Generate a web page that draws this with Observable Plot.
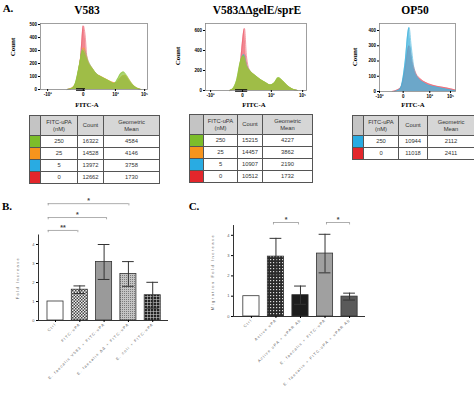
<!DOCTYPE html>
<html><head><meta charset="utf-8">
<script src="https://cdn.jsdelivr.net/npm/d3@7"></script>
<script src="https://cdn.jsdelivr.net/npm/@observablehq/plot@0.6"></script>
<style>
body{margin:0;background:#fff;}
#fig{position:relative;width:474px;height:399px;overflow:hidden;font-family:"Liberation Serif",serif;background:#fff;}
.abs{position:absolute;}
.lab{position:absolute;white-space:nowrap;line-height:1;}
table.ft{position:absolute;border-collapse:collapse;table-layout:fixed;font-family:"Liberation Sans",sans-serif;font-size:5.8px;color:#333;}
table.ft td{border:1px solid #555;text-align:center;padding:0;line-height:1.15;}
table.ft tr.h td{background:#d6d6d6;height:19px;}
table.ft tr.r td{height:11px;background:#fff;}
</style></head><body>
<svg width="0" height="0" style="position:absolute">
<defs>
<pattern id="pChk" width="3" height="3" patternUnits="userSpaceOnUse"><rect width="3" height="3" fill="#eee"/><rect width="1.5" height="1.5" fill="#444"/><rect x="1.5" y="1.5" width="1.5" height="1.5" fill="#444"/></pattern>
<pattern id="pDot" width="2" height="2" patternUnits="userSpaceOnUse"><rect width="2" height="2" fill="#c4c4c4"/><rect width="1" height="1" fill="#7a7a7a"/></pattern>
<pattern id="pGrid" width="3" height="3" patternUnits="userSpaceOnUse"><rect width="3" height="3" fill="#222"/><path d="M0 0.5H3M0.5 0V3" stroke="#c8c8c8" stroke-width="0.6"/></pattern>
<pattern id="pDotGrid" width="3" height="3" patternUnits="userSpaceOnUse"><rect width="3" height="3" fill="#2a2a2a"/><rect x="1" y="1" width="1.2" height="1.2" fill="#ddd"/></pattern>
</defs></svg>
<div id="fig"></div>
<script>
// ---------- DATA ----------
const decadeLabels = ["-10³", "0", "10³", "10⁵"];
// V583 histograms: [display position (biexponential units), count]
const v583_0 = [[-0.45,0],[-0.3,10],[-0.2,40],[-0.12,120],[-0.06,300],[0,490],[0.05,420],[0.1,250],[0.17,170],[0.25,130],[0.35,100],[0.5,80],[0.65,60],[0.8,45],[0.95,50],[1.05,80],[1.13,95],[1.22,80],[1.32,45],[1.45,15],[1.6,0]];
const v583_5 = [[-0.45,0],[-0.3,12],[-0.2,55],[-0.1,190],[-0.02,310],[0.04,300],[0.12,230],[0.22,175],[0.35,125],[0.5,95],[0.65,72],[0.8,52],[0.92,48],[1.02,80],[1.12,100],[1.2,95],[1.3,55],[1.45,15],[1.6,0]];
const v583_25 = [[-0.45,0],[-0.3,15],[-0.2,60],[-0.1,200],[-0.03,300],[0.02,320],[0.08,270],[0.15,210],[0.25,165],[0.35,125],[0.5,100],[0.65,78],[0.8,58],[0.92,50],[1.0,75],[1.1,105],[1.18,110],[1.26,85],[1.36,45],[1.5,12],[1.62,0]];
const v583_250 = [[-0.45,0],[-0.3,10],[-0.22,50],[-0.1,200],[-0.02,300],[0.06,260],[0.15,200],[0.26,160],[0.37,120],[0.48,100],[0.62,80],[0.76,60],[0.87,45],[0.96,80],[1.04,120],[1.13,135],[1.21,110],[1.32,60],[1.43,25],[1.55,5],[1.63,0]];
// V583ΔΔgelE/sprE histograms
const dd_0 = [[-0.4,0],[-0.25,20],[-0.12,100],[-0.03,400],[0.06,620],[0.12,350],[0.22,200],[0.4,140],[0.56,100],[0.72,70],[0.87,50],[1.0,65],[1.12,100],[1.25,80],[1.4,40],[1.56,10],[1.72,0]];
const dd_5 = [[-0.4,0],[-0.25,25],[-0.15,110],[-0.05,290],[0.04,360],[0.12,260],[0.25,190],[0.4,145],[0.56,105],[0.72,75],[0.87,52],[1.0,72],[1.12,115],[1.25,90],[1.4,45],[1.56,12],[1.72,0]];
const dd_25 = [[-0.4,0],[-0.28,22],[-0.17,105],[-0.05,300],[0.03,340],[0.12,250],[0.25,190],[0.4,148],[0.56,108],[0.72,78],[0.87,54],[1.0,76],[1.12,122],[1.25,95],[1.4,48],[1.56,14],[1.72,0]];
const dd_250 = [[-0.4,0],[-0.3,20],[-0.19,100],[-0.06,300],[0.03,350],[0.12,250],[0.25,190],[0.4,150],[0.56,110],[0.72,80],[0.87,55],[1.0,80],[1.12,130],[1.25,100],[1.4,50],[1.56,15],[1.72,0]];
// OP50 histograms
const op_0 = [[-0.37,0],[-0.2,10],[-0.07,30],[0.07,150],[0.2,300],[0.3,200],[0.43,120],[0.6,80],[0.87,50],[1.13,35],[1.43,25],[1.77,10]];
const op_250 = [[-0.3,0],[-0.15,10],[-0.07,30],[0.07,200],[0.17,400],[0.2,420],[0.27,300],[0.37,150],[0.5,90],[0.67,60],[0.87,40],[1.1,30],[1.33,20],[1.6,10],[1.77,5]];

// tables
const concA = ["250","25","5","0"], countA = [16322,14528,13972,12662], gmA = [4584,4146,3758,1730];
const concB = ["250","25","5","0"], countB = [15215,14457,10907,10512], gmB = [4227,3862,2190,1732];
const concC = ["250","0"], countC = [10944,11018], gmC = [2112,2411];

// panel B
const labelsB = ["Ctrl","FITC-uPA","E. faecalis V583 + FITC-uPA","E. faecalis ΔΔ + FITC-uPA","E. coli + FITC-uPA"];
const valsB = [1.0, 1.62, 3.08, 2.45, 1.33];
const errsB = [0, 0.2, 0.92, 0.65, 0.68];
const bracketsB = [{x1:-0.3,x2:3.02,y:6.15,t:"*"},{x1:-0.3,x2:2.1,y:5.42,t:"*"},{x1:-0.3,x2:0.92,y:4.74,t:"**"}];
// panel C
const labelsC = ["Ctrl","Active uPA","Active uPA + uPAR Ab","E. faecalis + FITC-uPA","E. faecalis + FITC-uPA + uPAR Ab"];
const valsC = [1.0, 2.95, 1.05, 3.1, 0.98];
const errsC = [0, 0.9, 0.45, 0.95, 0.17];
const bracketsC = [{x1:0.9,x2:1.92,y:4.63,t:"*"},{x1:3.06,x2:4.0,y:4.63,t:"*"}];

// ---------- STYLES ----------
const C_RED = "#ec5d6b", C_BLUE = "#3fb2dc", C_ORANGE = "#f4a23b", C_GREEN = "#8dc63f";
const tableColorsA = ["#7cbd2a","#f7941d","#29abe2","#e3262b"];
const tableColorsC = ["#29abe2","#e3262b"];
const fillsB = ["#ffffff","url(#pChk)","#9a9a9a","url(#pDot)","url(#pGrid)"];
const fillsC = ["#ffffff","url(#pDotGrid)","#1c1c1c","#a0a0a0","#5a5a5a"];

const fig = document.getElementById("fig");
const plotStyle = {background:"none", overflow:"visible", fontFamily:"Liberation Sans, sans-serif"};

function place(node, left, top) {
  node.style.position = "absolute"; node.style.left = left + "px"; node.style.top = top + "px";
  fig.appendChild(node);
}
function label(text, x, y, o = {}) {
  const d = document.createElement("div");
  d.className = "lab"; d.textContent = text;
  d.style.left = x + "px"; d.style.top = y + "px";
  d.style.fontSize = (o.size || 8) + "px";
  d.style.fontWeight = o.weight || "bold";
  d.style.fontFamily = o.family || "'Liberation Serif', serif";
  d.style.color = o.color || "#000";
  if (o.ls) d.style.letterSpacing = o.ls + "px";
  d.style.transform = `translate(-50%,-50%) rotate(${o.rotate || 0}deg)`;
  fig.appendChild(d);
}

function hist(o) {
  const marks = [];
  o.series.forEach((s, k) => {
    marks.push(Plot.areaY(s, {x: d => d[0], y: d => d[1], fill: o.colors[k], fillOpacity: 0.75, curve: "monotone-x"}));
    marks.push(Plot.lineY(s, {x: d => d[0], y: d => d[1], stroke: o.colors[k], strokeWidth: 0.6, curve: "monotone-x"}));
  });
  if (o.gate) marks.push(Plot.ruleY([0], {x1: o.gate[0], x2: o.gate[1], stroke: "#000", strokeWidth: 2.5}));
  marks.push(Plot.frame({stroke: "#888", strokeWidth: 0.8}));
  marks.push(Plot.axisY(o.yTicks, {tickSize: 2, tickPadding: 1.5, fontSize: 4.5, fontWeight: "bold", tickFormat: d => d}));
  marks.push(Plot.axisX(o.xTicks, {tickSize: 2, tickPadding: 1.5, fontSize: 4.5, fontWeight: "bold", tickFormat: d => decadeLabels[o.xTicks.indexOf(d)]}));
  const p = Plot.plot({
    width: o.width, height: o.height, marginLeft: o.mL, marginRight: o.mR, marginTop: o.mT, marginBottom: o.mB,
    x: {domain: o.xDomain}, y: {domain: [0, o.yMax]}, style: plotStyle, marks
  });
  place(p, o.left, o.top);
}

hist({series: [v583_0, v583_5, v583_25, v583_250], colors: [C_RED, C_BLUE, C_ORANGE, C_GREEN],
  xDomain: [-1.2, 1.8], xTicks: [-1, 0, 0.9, 1.72], yMax: 508, yTicks: [0,100,200,300,400,500],
  gate: [-0.19, 0.06], left: 0, top: 0, width: 160, height: 112, mL: 40, mR: 13, mT: 23, mB: 23});
hist({series: [dd_0, dd_5, dd_25, dd_250], colors: [C_RED, C_BLUE, C_ORANGE, C_GREEN],
  xDomain: [-1.16, 2.0], xTicks: [-1, 0, 0.9, 1.88], yMax: 670, yTicks: [0,200,400,600],
  gate: [-0.22, 0.16], left: 160, top: 0, width: 160, height: 112, mL: 45, mR: 14, mT: 23, mB: 22});
hist({series: [op_0, op_250], colors: [C_RED, C_BLUE],
  xDomain: [-0.8, 1.77], xTicks: [-0.8, 0, 0.9, 1.6], yMax: 446, yTicks: [0,100,200,300,400],
  left: 320, top: 0, width: 154, height: 112, mL: 59, mR: 19, mT: 23, mB: 21});

// titles / labels panel A
label("A.", 8, 8, {size: 11});
label("V583", 87, 11, {size: 11.5});
label("V583ΔΔgelE/sprE", 257, 11, {size: 11.5});
label("OP50", 415, 11, {size: 11.5});
label("Count", 13, 47, {size: 7, rotate: -90});
label("Count", 178, 56, {size: 7, rotate: -90});
label("Count", 355, 57, {size: 7, rotate: -90});
label("FITC-A", 87, 105, {size: 6.8});
label("FITC-A", 254, 105, {size: 6.8});
label("FITC-A", 413, 105, {size: 6.8});

function table(conc, counts, gms, colors, left, top, cols) {
  const t = document.createElement("table");
  t.className = "ft";
  t.style.width = d3.sum(cols) + "px";
  const cg = document.createElement("colgroup");
  cols.forEach(w => { const c = document.createElement("col"); c.style.width = w + "px"; cg.appendChild(c); });
  t.appendChild(cg);
  const h = t.insertRow(); h.className = "h";
  ["", "FITC-uPA<br>(nM)", "Count", "Geometric<br>Mean"].forEach((s, i) => {
    const c = h.insertCell(); c.innerHTML = s; if (i === 0) c.style.background = "#c4c4c4";
  });
  conc.forEach((v, i) => {
    const r = t.insertRow(); r.className = "r";
    const c0 = r.insertCell(); c0.style.background = colors[i];
    r.insertCell().textContent = v;
    r.insertCell().textContent = counts[i];
    r.insertCell().textContent = gms[i];
  });
  place(t, left, top);
}
table(concA, countA, gmA, tableColorsA, 29, 115, [11, 37, 26, 56]);
table(concB, countB, gmB, tableColorsA, 189, 114, [14, 34, 25, 50]);
table(concC, countC, gmC, tableColorsC, 352, 115, [11, 35, 29, 47]);

// ---------- bar charts ----------
function barChart(o) {
  const data = o.labels.map((l, i) => ({i, v: o.vals[i], e: o.errs[i], f: o.fills[i]}));
  const withErr = data.filter(d => d.e > 0);
  const ends = o.brackets.flatMap(b => [{x: b.x1, y: b.y}, {x: b.x2, y: b.y}]);
  const p = Plot.plot({
    width: o.width, height: o.height, marginLeft: o.mL, marginRight: o.mR, marginTop: o.mT, marginBottom: o.mB,
    x: {type: "linear", domain: o.xDomain}, y: {domain: o.yDomain}, color: {type: "identity"},
    style: plotStyle,
    marks: [
      Plot.rectY(data, {x1: d => d.i - 0.33, x2: d => d.i + 0.33, y1: 0, y2: "v", fill: "f", stroke: "#333", strokeWidth: 0.8}),
      Plot.ruleX(withErr, {x: "i", y1: d => d.v - d.e, y2: d => d.v + d.e, stroke: "#333", strokeWidth: 1}),
      Plot.ruleY(withErr, {y: d => d.v + d.e, x1: d => d.i - 0.24, x2: d => d.i + 0.24, stroke: "#333", strokeWidth: 1}),
      Plot.ruleY(withErr, {y: d => d.v - d.e, x1: d => d.i - 0.24, x2: d => d.i + 0.24, stroke: "#333", strokeWidth: 1}),
      Plot.ruleX([o.xDomain[0]], {y1: 0, y2: o.axisTop, stroke: "#333", strokeWidth: 1}),
      Plot.ruleY([0], {x1: o.xDomain[0], x2: o.xDomain[1], stroke: "#333", strokeWidth: 1}),
      Plot.axisY([0, 1, 2, 3, 4], {x: o.xDomain[0], tickSize: 2, tickPadding: 2, fontSize: 4, fill: "#555", tickFormat: d => d}),
      Plot.axisX(d3.range(o.labels.length), {tickSize: 2, tickPadding: 1, fontSize: 3.8, fill: "#666", tickRotate: -45, tickFormat: i => o.labels[i]}),
      Plot.ruleY(o.brackets, {y: "y", x1: "x1", x2: "x2", stroke: "#999", strokeWidth: 0.8}),
      Plot.ruleX(ends, {x: "x", y1: d => d.y - 0.12, y2: "y", stroke: "#999", strokeWidth: 0.8}),
      Plot.text(o.brackets, {x: d => (d.x1 + d.x2) / 2, y: "y", text: "t", dy: -2.5, fontSize: 7, fill: "#444", fontWeight: "bold"})
    ]
  });
  d3.select(p).selectAll("g[aria-label='x-axis tick label'] text").attr("letter-spacing", "1.1px");
  place(p, o.left, o.top);
}

barChart({labels: labelsB, vals: valsB, errs: errsB, fills: fillsB, brackets: bracketsB,
  xDomain: [-0.7, 4.65], yDomain: [0, 7], axisTop: 4.5,
  left: 0, top: 185, width: 235, height: 214, mL: 38, mR: 67, mT: 2, mB: 79});
barChart({labels: labelsC, vals: valsC, errs: errsC, fills: fillsC, brackets: bracketsC,
  xDomain: [-0.73, 4.65], yDomain: [0, 5], axisTop: 4.48,
  left: 200, top: 195, width: 274, height: 204, mL: 33, mR: 109, mT: 19.5, mB: 83});

label("B.", 7, 206, {size: 11});
label("C.", 194, 206, {size: 11});
label("Fold Increase", 18, 278, {size: 4, weight: "normal", family: "'Liberation Sans', sans-serif", color: "#666", rotate: -90, ls: 1.4});
label("Migration Fold Increase", 213, 272, {size: 4, weight: "normal", family: "'Liberation Sans', sans-serif", color: "#666", rotate: -90, ls: 1.5});
</script></body></html>
